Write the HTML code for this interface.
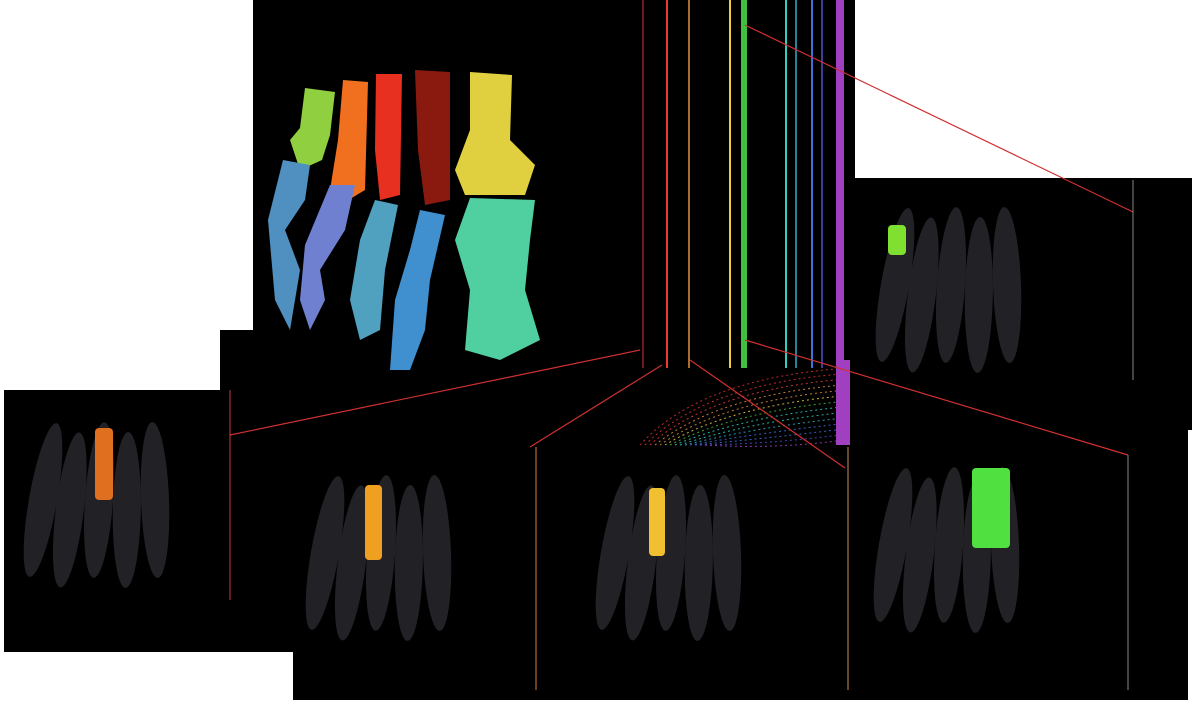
<!DOCTYPE html>
<html><head><meta charset="utf-8"><style>
html,body{margin:0;padding:0;background:#fff;width:1192px;height:710px;overflow:hidden}
svg{display:block}
</style></head><body>
<svg id="fig" width="1192" height="710" viewBox="0 0 1192 710" xmlns="http://www.w3.org/2000/svg">
<defs>
<filter id="spk" x="0" y="0" width="100%" height="100%">
<feTurbulence type="fractalNoise" baseFrequency="0.9" numOctaves="1" seed="3"/>
<feColorMatrix type="matrix" values="0 0 0 0 0.6  0 0 0 0 0.6  0 0 0 0 0.65  0 0 0 3 -1.6"/>
<feComposite in2="SourceGraphic" operator="in"/>
</filter>
</defs>
<rect width="1192" height="710" fill="#fff"/>
<g>
<rect x="253" y="0" width="602" height="440" fill="#000"/>
<rect x="855" y="178" width="337" height="252" fill="#000"/>
<rect x="293" y="430" width="895" height="270" fill="#000"/>
<rect x="4" y="390" width="289" height="262" fill="#000"/>
<rect x="220" y="330" width="40" height="62" fill="#000"/>
</g>
<g id="tree"></g>
<g id="bones"></g>
<g id="feet"></g>
<g id="arrows"></g>
</svg>
<script>
const NS="http://www.w3.org/2000/svg";
// dendrogram leaf lines: x positions, colors, widths
const lineX=[643,667,689,730,744,786,796,812,822,840];
const lineColors=["#e03030","#e83838","#e09040","#e8d040","#40c040","#30d0c0","#30b0d0","#4070e0","#5050d0","#a040c0"];
const lineW=[1,2,1.5,2,6,2,1.5,2,1.5,8];
const tree=document.getElementById('tree');
function mk(tag,attrs,parent){const e=document.createElementNS(NS,tag);for(const k in attrs)e.setAttribute(k,attrs[k]);parent.appendChild(e);return e;}
for(let i=0;i<lineX.length;i++){
 const l=mk('line',{x1:lineX[i],y1:0,x2:lineX[i],y2:368,stroke:lineColors[i],'stroke-width':lineW[i]},tree);
 
 
}
// fan of dotted curves
for(let k=0;k<14;k++){
 const y0=368+k*5.5, col=lineColors[Math.min(9,Math.floor(k*10/14))];
 const p=mk('path',{d:`M${640+k*5} 445 Q${700+k*6} ${y0+10} 848 ${y0}`,fill:'none',stroke:col,'stroke-width':1,'stroke-dasharray':'2 3',opacity:0.85},tree);
 
 
}
const pb=mk('rect',{x:836,y:360,width:14,height:85,fill:'#a040c0'},tree);



// top panel colored bones
const bones=document.getElementById('bones');
const boneShapes=[
 ["M305 88 L335 92 L330 135 L322 160 L300 170 L290 140 L300 128Z","#90d040"],
 ["M343 80 L368 82 L365 190 L340 205 L330 190 L338 140Z","#f07020"],
 ["M376 74 L402 74 L400 195 L380 200 L375 150Z","#e83020"],
 ["M415 70 L450 72 L450 200 L425 205 L418 150Z","#8a1a10"],
 ["M470 72 L512 75 L510 140 L535 165 L525 195 L465 195 L455 170 L470 130Z","#e0d040"],
 ["M283 160 L310 165 L305 200 L285 230 L300 270 L290 330 L275 300 L268 220Z","#5090c0"],
 ["M330 185 L355 185 L345 230 L320 270 L325 300 L310 330 L300 300 L305 245Z","#7080d0"],
 ["M375 200 L398 205 L385 270 L380 330 L360 340 L350 300 L360 240Z","#50a0c0"],
 ["M420 210 L445 215 L430 280 L425 330 L410 370 L390 370 L395 300 L410 250Z","#4090d0"],
 ["M470 198 L535 200 L530 240 L525 290 L540 340 L500 360 L465 350 L470 290 L455 240Z","#50d0a0"]
];
for(const [d,c] of boneShapes){
 const p=mk('path',{d:d,fill:c},bones);
 
 
}
// grey speckled feet + highlighted bone
const feet=document.getElementById('feet');
const footX=[18,300,590,868,870];
const footY=[425,478,478,470,210];
const hl=[[95,428,18,72,"#e07020"],[365,485,17,75,"#f0a020"],[649,488,16,68,"#f0c030"],[972,468,38,80,"#50e040"],[888,225,18,30,"#80e030"]];
for(let i=0;i<footX.length;i++){
 const g=mk('g',{},feet);
 
 
 const x=footX[i],y=footY[i];
 for(let j=0;j<5;j++){
  mk('ellipse',{cx:x+25+j*28,cy:y+75+(j%2)*10,rx:14,ry:78,fill:'#2a2a30',opacity:0.8,transform:`rotate(${10-j*3} ${x+25+j*28} ${y+75})`},g);
 }
 const h=hl[i];
 const r=mk('rect',{x:h[0],y:h[1],width:h[2],height:h[3],rx:4,fill:h[4]},g);
 
 
}
// arrows and edge lines
const arrows=document.getElementById('arrows');
const arr=[[640,350,230,435],[662,365,530,447],[690,360,845,468],[745,340,1128,455],[745,25,1133,212]];
for(const a of arr){
 const l=mk('line',{x1:a[0],y1:a[1],x2:a[2],y2:a[3],stroke:'#d03030','stroke-width':1.2},arrows);
 
 
}
const edges=[[230,390,600,"#c04040"],[536,447,690,"#d08040"],[848,447,690,"#d09050"],[1128,455,690,"#888"],[1133,180,380,"#888"]];
for(const e of edges){
 const l=mk('line',{x1:e[0],y1:e[1],x2:e[0],y2:e[2],stroke:e[3],'stroke-width':1},arrows);
 
 
}
</script>
</body></html>
